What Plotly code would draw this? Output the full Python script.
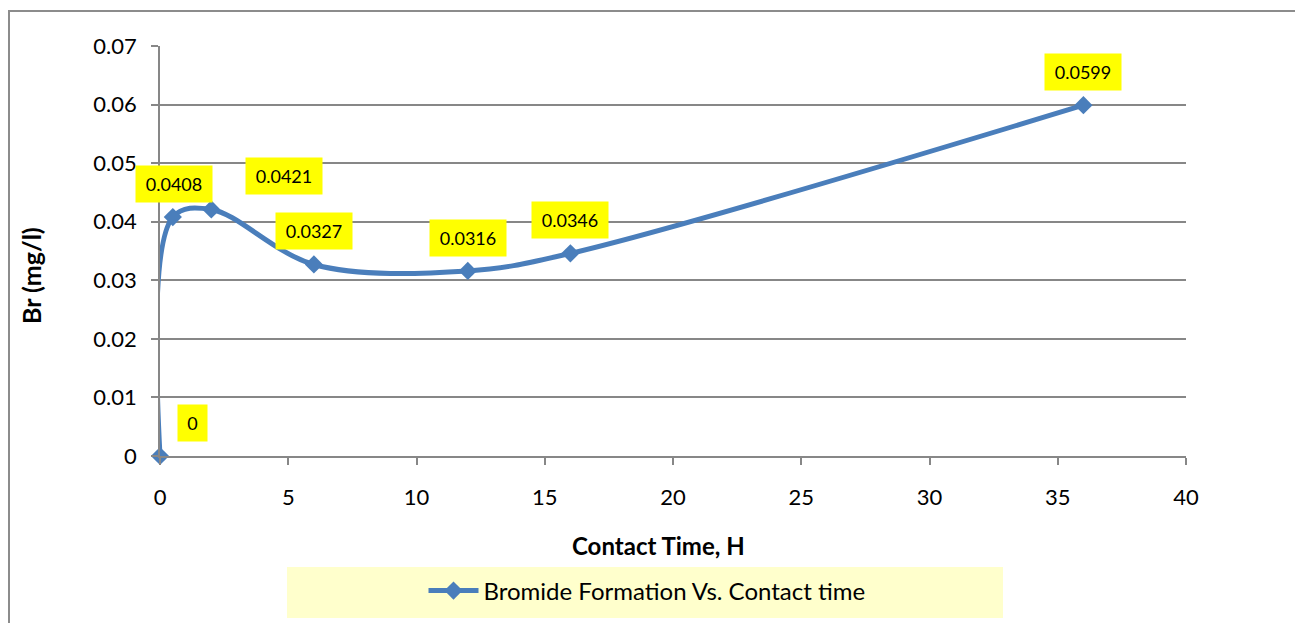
import plotly.graph_objects as go

# Bromide formation measured against contact time
contact_time_h = [0, 0.5, 2, 6, 12, 16, 36]
bromide_mg_l = [0, 0.0408, 0.0421, 0.0327, 0.0316, 0.0346, 0.0599]
label_texts = ["0", "0.0408", "0.0421", "0.0327", "0.0316", "0.0346", "0.0599"]
x_ticks = [0, 5, 10, 15, 20, 25, 30, 35, 40]
y_ticks = [0, 0.01, 0.02, 0.03, 0.04, 0.05, 0.06, 0.07]
y_tick_text = ["0", "0.01", "0.02", "0.03", "0.04", "0.05", "0.06", "0.07"]

FONT = "Lato, Carlito, Calibri, sans-serif"
LINE_BLUE = "#4a7ebb"
GRID = "#878787"

W, H = 1295, 623
L, R, T, B = 160, 109, 46, 167
PW, PH = W - L - R, H - T - B


def px_x(px):
    return (px - L) / PW


def px_y(py):
    return (H - B - py) / PH


fig = go.Figure()
fig.add_trace(go.Scatter(
    x=contact_time_h,
    y=bromide_mg_l,
    mode="lines+markers",
    name="Bromide Formation Vs. Contact time",
    line=dict(color=LINE_BLUE, width=5, shape="spline", smoothing=1.0),
    marker=dict(symbol="diamond", size=14, color=LINE_BLUE),
    cliponaxis=False,
))

# yellow value labels above each point
label_shift = [(32, 33), (1, 33), (73, 33), (0, 33), (0, 33), (0, 33), (0, 33)]
annotations = []
for xv, yv, txt, (dx, dy) in zip(contact_time_h, bromide_mg_l, label_texts, label_shift):
    annotations.append(dict(
        x=xv, y=yv, xref="x", yref="y", text=txt, showarrow=False,
        xshift=dx, yshift=dy, bgcolor="#ffff00",
        width=27 if len(txt) == 1 else 74, height=34,
        font=dict(family=FONT, size=18, color="#000000"),
    ))

# axis titles
annotations.append(dict(
    x=px_x(658), y=px_y(545), xref="paper", yref="paper",
    xanchor="center", yanchor="middle",
    text="<b>Contact Time, H</b>", showarrow=False,
    font=dict(family=FONT, size=24, color="#000000"),
))
annotations.append(dict(
    x=px_x(31), y=px_y(276), xref="paper", yref="paper",
    xanchor="center", yanchor="middle",
    text="<b>Br (mg/l)</b>", showarrow=False, textangle=-90,
    font=dict(family=FONT, size=25, color="#000000"),
))

shapes = [
    # chart outer border
    dict(type="rect", xref="paper", yref="paper",
         x0=px_x(9), x1=px_x(1300), y0=px_y(630), y1=px_y(11),
         line=dict(color="#8c8c8c", width=2), fillcolor="rgba(0,0,0,0)", layer="below"),
    # legend panel
    dict(type="rect", xref="paper", yref="paper",
         x0=px_x(287), x1=px_x(1003), y0=px_y(618), y1=px_y(567),
         line=dict(width=0), fillcolor="#ffffcc", layer="below"),
]

fig.update_layout(
    width=W, height=H,
    margin=dict(l=L, r=R, t=T, b=B, autoexpand=False),
    paper_bgcolor="#ffffff", plot_bgcolor="#ffffff",
    font=dict(family=FONT, size=22, color="#000000"),
    showlegend=True,
    legend=dict(
        x=px_x(647), y=px_y(591), xanchor="center", yanchor="middle",
        bgcolor="rgba(0,0,0,0)", font=dict(family=FONT, size=24, color="#000000"),
        itemwidth=50,
    ),
    annotations=annotations,
    shapes=shapes,
    xaxis=dict(
        range=[0, 40], tickvals=x_ticks, ticktext=[str(v) for v in x_ticks],
        showgrid=False, zeroline=False,
        showline=True, linecolor=GRID, linewidth=1.5,
        ticks="outside", ticklen=7, tickcolor=GRID, tickwidth=1.5,
        ticklabelstandoff=14,
        tickfont=dict(family=FONT, size=22, color="#000000"),
    ),
    yaxis=dict(
        range=[0, 0.07], tickvals=y_ticks, ticktext=y_tick_text,
        showgrid=True, gridcolor=GRID, gridwidth=1.5, zeroline=False,
        showline=True, linecolor=GRID, linewidth=1.5,
        ticks="outside", ticklen=7, tickcolor=GRID, tickwidth=1.5,
        ticklabelstandoff=10,
        tickfont=dict(family=FONT, size=22, color="#000000"),
    ),
)

fig.write_html("out.html")
